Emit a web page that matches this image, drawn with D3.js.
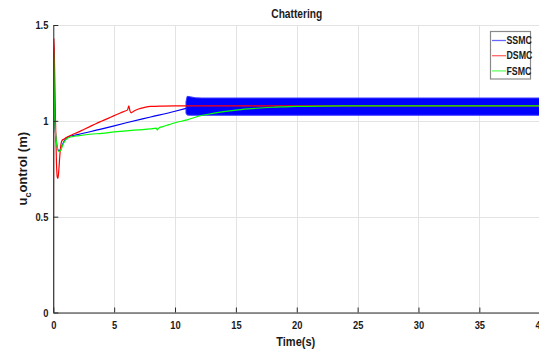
<!DOCTYPE html>
<html>
<head>
<meta charset="utf-8">
<script src="https://cdn.jsdelivr.net/npm/d3@7"></script>
<style>
  html, body { margin: 0; padding: 0; background: #fff; }
  svg { display: block; }
  text { font-family: "Liberation Sans", Arial, sans-serif; font-weight: bold; fill: #1a1a1a; }
  .sqc { transform: scaleX(0.85); transform-box: fill-box; transform-origin: center; }
  .sqr { transform: scaleX(0.85); transform-box: fill-box; transform-origin: right center; }
  .sql { transform: scaleX(0.8); transform-box: fill-box; transform-origin: left center; }
</style>
</head>
<body>
<svg id="chart" width="539" height="351"></svg>
<script>
// ---------------- data ----------------
const seriesNames = ["SSMC", "DSMC", "FSMC"];
const seriesColors = ["#0000ff", "#ff0000", "#00ff00"];

const xTicks = [0, 5, 10, 15, 20, 25, 30, 35, 40];
const yTicks = [0, 0.5, 1, 1.5];
const yTickLabels = ["0", "0.5", "1", "1.5"];

// SSMC (blue) – smooth part before chattering starts
const timeSSMC = [0, 0.02, 0.12, 0.3, 0.45, 0.6, 0.75, 0.95, 1.2, 2, 4, 6, 8, 10, 10.9];
const valSSMC  = [1.38, 1.38, 1.0, 0.87, 0.845, 0.85, 0.875, 0.9, 0.915, 0.928, 0.958, 0.99, 1.02, 1.05, 1.065];

// SSMC chattering envelope (fast oscillation band)
const timeBand = [10.9, 11.0, 11.3, 11.7, 12.2, 40];
const bandHigh = [1.10, 1.128, 1.125, 1.12, 1.119, 1.119];
const bandLow  = [1.04, 1.03, 1.029, 1.029, 1.029, 1.029];

// DSMC (red)
const timeDSMC = [0, 0.05, 0.1, 0.18, 0.26, 0.33, 0.38, 0.45, 0.55, 0.65, 0.75, 0.9, 1.0, 1.5, 2.0, 2.5, 3.0, 3.5, 4.0, 4.5, 5.0, 5.5, 5.9, 6.1, 6.2, 6.3, 6.4, 6.6, 7.0, 7.5, 8.0, 9.0, 10, 20, 30, 40];
const valDSMC  = [0, 1.43, 1.3, 1.0, 0.78, 0.705, 0.70, 0.74, 0.83, 0.885, 0.9, 0.905, 0.91, 0.926, 0.94, 0.955, 0.97, 0.985, 0.999, 1.013, 1.027, 1.041, 1.051, 1.057, 1.078, 1.052, 1.042, 1.05, 1.062, 1.07, 1.075, 1.077, 1.078, 1.078, 1.078, 1.078];

// FSMC (green)
const timeFSMC = [0, 0.02, 0.12, 0.3, 0.45, 0.6, 0.75, 0.95, 1.2, 1.6, 2, 3, 4, 5, 6, 7, 8, 8.45, 8.55, 8.65, 9.0, 9.5, 10, 11, 12, 13, 14, 15, 16, 17, 18, 19, 20, 22, 25, 40];
const valFSMC  = [1.39, 1.39, 1.0, 0.87, 0.84, 0.845, 0.87, 0.895, 0.91, 0.918, 0.922, 0.93, 0.935, 0.942, 0.948, 0.953, 0.958, 0.962, 0.952, 0.962, 0.97, 0.98, 0.99, 1.005, 1.025, 1.038, 1.048, 1.056, 1.062, 1.067, 1.071, 1.073, 1.075, 1.077, 1.078, 1.078];

const titleText = "Chattering";
const xLabelText = "Time(s)";

// ---------------- drawing ----------------
const svg = d3.select("#chart");
const pL = 53.3, pR = 540.2, pT = 25, pB = 312.5;

const x = d3.scaleLinear().domain([0, 40]).range([pL, pR]);
const y = d3.scaleLinear().domain([0, 1.5]).range([pB, pT]);

svg.append("defs").append("clipPath").attr("id", "clip")
  .append("rect").attr("x", pL).attr("y", pT - 2).attr("width", pR - pL).attr("height", pB - pT + 2);

// grid
const grid = svg.append("g");
grid.selectAll(".gx").data(xTicks).join("line")
  .attr("x1", d => Math.round(x(d)) + 0.5).attr("x2", d => Math.round(x(d)) + 0.5)
  .attr("y1", pT).attr("y2", pB)
  .attr("stroke", "#e3e3e3").attr("stroke-width", 1);
grid.selectAll(".gy").data(yTicks).join("line")
  .attr("y1", d => Math.round(y(d)) + 0.5).attr("y2", d => Math.round(y(d)) + 0.5)
  .attr("x1", pL).attr("x2", pR)
  .attr("stroke", "#e3e3e3").attr("stroke-width", 1);

// data
const plot = svg.append("g").attr("clip-path", "url(#clip)");
const line = d3.line().x(d => x(d[0])).y(d => y(d[1])).curve(d3.curveMonotoneX);

const bandData = timeBand.map((t, i) => [t, bandLow[i], bandHigh[i]]);
plot.append("path")
  .datum(bandData)
  .attr("d", d3.area().x(d => x(d[0])).y0(d => y(d[1])).y1(d => y(d[2])))
  .attr("fill", seriesColors[0])
  .attr("stroke", "#3b3bff").attr("stroke-width", 1);

const lw = 1.2;
plot.append("path")
  .datum(timeSSMC.map((t, i) => [t, valSSMC[i]]))
  .attr("d", line).attr("fill", "none").attr("stroke", seriesColors[0]).attr("stroke-width", lw);
plot.append("path")
  .datum(timeDSMC.map((t, i) => [t, valDSMC[i]]))
  .attr("d", line).attr("fill", "none").attr("stroke", seriesColors[1]).attr("stroke-width", lw);
plot.append("path")
  .datum(timeFSMC.map((t, i) => [t, valFSMC[i]]))
  .attr("d", line).attr("fill", "none").attr("stroke", seriesColors[2]).attr("stroke-width", lw);

// axes
const xAxis = svg.append("g").attr("transform", `translate(0,${pB})`)
  .call(d3.axisBottom(x).tickValues(xTicks).tickFormat(d3.format("d")).tickSizeInner(-5).tickSizeOuter(0).tickPadding(9));
const yAxis = svg.append("g").attr("transform", `translate(${pL},0)`)
  .call(d3.axisLeft(y).tickValues(yTicks).tickFormat((d, i) => yTickLabels[i]).tickSizeInner(-5).tickSizeOuter(0).tickPadding(5));

[xAxis, yAxis].forEach(a => {
  a.select(".domain").attr("stroke", "#2b2b2b").attr("stroke-width", 1);
  a.selectAll(".tick line").attr("stroke", "#2b2b2b");
  a.selectAll("text").attr("font-size", 11).attr("font-family", null).attr("fill", "#1a1a1a");
});
xAxis.selectAll("text").attr("class", "sqc");
yAxis.selectAll("text").attr("class", "sqr");

// title and labels
svg.append("text").attr("class", "sqc")
  .attr("x", (pL + pR) / 2).attr("y", 18)
  .attr("text-anchor", "middle").attr("font-size", 12).text(titleText);

svg.append("text").attr("class", "sqc")
  .attr("x", (pL + pR) / 2 - 1).attr("y", 346.5)
  .attr("text-anchor", "middle").attr("font-size", 13).text(xLabelText);

const yl = svg.append("text")
  .attr("transform", `translate(27,${(pT + pB) / 2}) rotate(-90)`)
  .attr("text-anchor", "middle").attr("font-size", 13);
yl.append("tspan").text("u");
yl.append("tspan").attr("dy", 4).attr("font-size", 9).text("c");
yl.append("tspan").attr("dy", -4).text("ontrol (m)");

// legend
const lg = svg.append("g");
lg.append("rect").attr("x", 490.5).attr("y", 31.5).attr("width", 40).attr("height", 47.5)
  .attr("fill", "#fff").attr("stroke", "#8a8a8a").attr("stroke-width", 1.2);
seriesNames.forEach((name, i) => {
  const yy = 40.5 + i * 15.2;
  lg.append("line").attr("x1", 492).attr("x2", 506).attr("y1", yy).attr("y2", yy)
    .attr("stroke", seriesColors[i]).attr("stroke-opacity", 0.6).attr("stroke-width", 1.3);
  lg.append("text").attr("class", "sql").attr("x", 506.5).attr("y", yy + 3.8)
    .attr("font-size", 11).text(name);
});
</script>
</body>
</html>
